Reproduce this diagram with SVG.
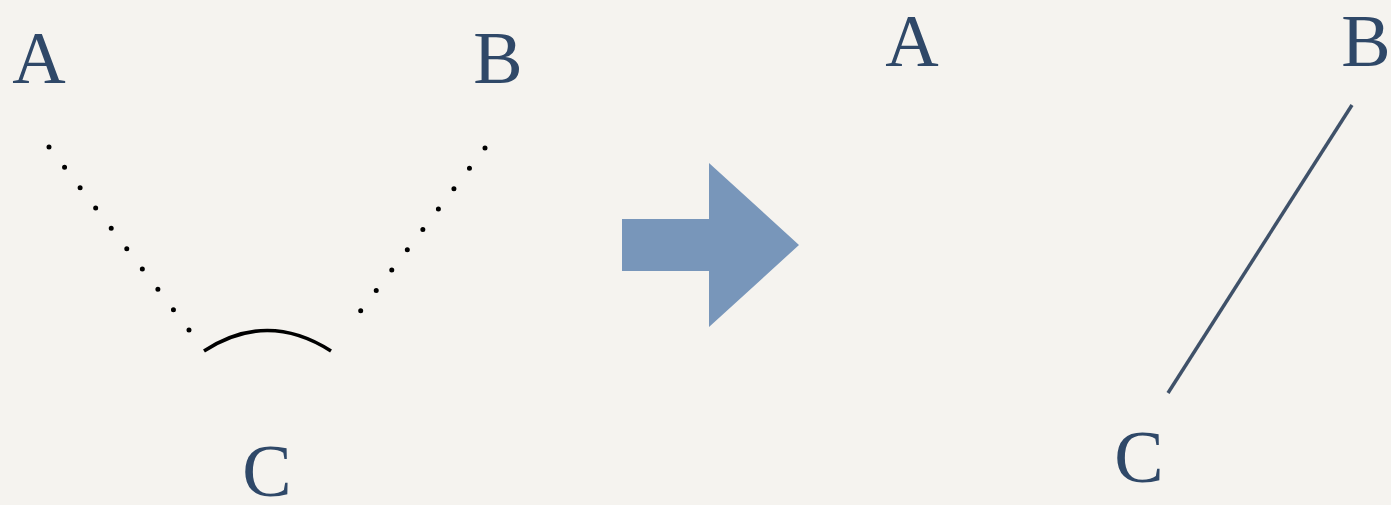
<svg xmlns="http://www.w3.org/2000/svg" width="1391" height="505" viewBox="0 0 1391 505">
<style>
.lbl{font-family:"Liberation Serif","Times New Roman",serif;font-size:74px;fill:#2f4868;text-anchor:middle}
.dot{fill:none;stroke:#000;stroke-width:5;stroke-linecap:round;stroke-dasharray:0 25.6}
</style>
<rect width="1391" height="505" fill="#f5f3ef"/>
<g id="connectors">
<path class="dot" d="M49,147 L189,330"/>
<path class="dot" d="M485,148 L346,330"/>
<path d="M204,351 Q267,310 331,351" fill="none" stroke="#000" stroke-width="3.5"/>
<line x1="1352" y1="105" x2="1168" y2="393" stroke="#3f5169" stroke-width="3.5"/>
</g>
<g id="arrow"><polygon points="622,219 709,219 709,163 799,245 709,327 709,271 622,271" fill="#7896ba"/></g>
<g id="node-A-left"><text class="lbl" x="39" y="83">A</text></g>
<g id="node-B-left"><text class="lbl" x="498" y="83">B</text></g>
<g id="node-C-left"><text class="lbl" x="267" y="496">C</text></g>
<g id="node-A-right"><text class="lbl" x="912" y="66">A</text></g>
<g id="node-B-right"><text class="lbl" x="1366" y="66">B</text></g>
<g id="node-C-right"><text class="lbl" x="1139" y="482">C</text></g>
</svg>
